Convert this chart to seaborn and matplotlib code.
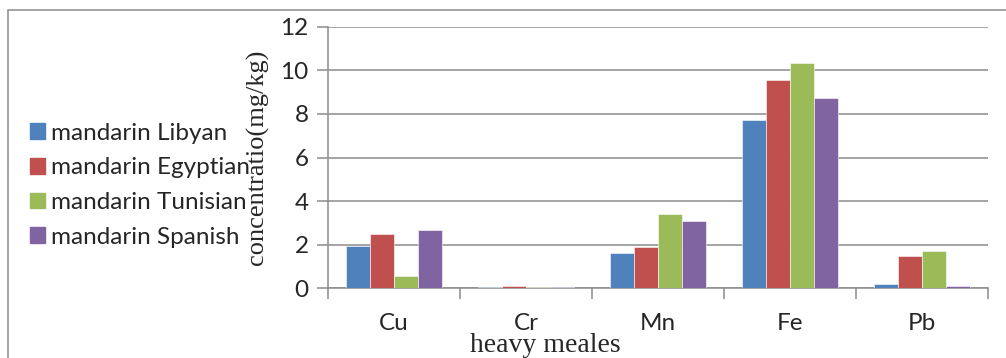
import matplotlib
matplotlib.use("Agg")
import matplotlib.pyplot as plt
import matplotlib.patches as mpatches
import seaborn as sns
import pandas as pd

metals = ["Cu", "Cr", "Mn", "Fe", "Pb"]
series = ["mandarin Libyan", "mandarin Egyptian", "mandarin Tunisian", "mandarin Spanish"]
libyan = [1.94, 0.08, 1.60, 7.72, 0.20]
egyptian = [2.49, 0.12, 1.88, 9.55, 1.48]
tunisian = [0.56, 0.05, 3.41, 10.32, 1.72]
spanish = [2.67, 0.05, 3.10, 8.74, 0.10]
colors = ["#4F81BD", "#C0504D", "#9BBB59", "#8064A2"]

rows = []
for name, vals in zip(series, [libyan, egyptian, tunisian, spanish]):
    for m, v in zip(metals, vals):
        rows.append({"metal": m, "series": name, "value": v})
df = pd.DataFrame(rows)

sns.set_style("white")
plt.rcParams["font.family"] = ["Lato", "DejaVu Sans"]

fig = plt.figure(figsize=(10.06, 3.58), dpi=100)
ax = fig.add_axes([328 / 1006, 1 - 288.3 / 358, 660 / 1006, 261.6 / 358])

sns.barplot(data=df, x="metal", y="value", hue="series", order=metals,
            hue_order=series, palette=colors, width=0.727, saturation=1,
            edgecolor="white", linewidth=0.4, legend=False, ax=ax, zorder=3)

ax.set_ylim(0, 12)
ax.set_xlim(-0.5, 4.5)
ax.set_yticks(range(0, 13, 2))
ax.yaxis.grid(True, color="#8c8c8c", linewidth=1.1, zorder=0)
ax.set_axisbelow(True)
for s in ["top", "right"]:
    ax.spines[s].set_visible(False)
for s in ["left", "bottom"]:
    ax.spines[s].set_color("#8c8c8c")
    ax.spines[s].set_linewidth(1.1)

# category boundary ticks on the x axis
ax.set_xticks([i - 0.5 for i in range(6)], minor=True)
ax.set_xticks(range(5))
ax.set_xticklabels(metals, fontsize=17.5)
ax.tick_params(axis="x", which="major", length=0, pad=18)
ax.tick_params(axis="x", which="minor", length=8, width=1.1, color="#8c8c8c", direction="out", bottom=True)
ax.tick_params(axis="y", length=8, width=1.1, color="#8c8c8c", direction="out", left=True, labelsize=17.5, pad=6)

ax.set_xlabel("heavy meales", fontsize=20, family="Liberation Serif", va="top")
ax.xaxis.set_label_coords(0.33, -0.172)
ax.set_ylabel("concentratio(mg/kg)", fontsize=19, family="Liberation Serif", labelpad=8)

handles = [mpatches.Patch(color=c, label=s) for c, s in zip(colors, series)]
fig.legend(handles=handles, loc="upper left", bbox_to_anchor=(20 / 1006, 1 - 113 / 358),
           frameon=False, fontsize=17.5, handlelength=0.62, handleheight=0.62,
           handletextpad=0.25, labelspacing=0.56, borderaxespad=0)

# outer chart frame
fig.add_artist(mpatches.Rectangle((8 / 1006, -0.1), 1.2, 1 - 10 / 358 + 0.1,
               transform=fig.transFigure, fill=False, edgecolor="#8c8c8c", linewidth=1.1))

fig.savefig("out.png", dpi=100)
